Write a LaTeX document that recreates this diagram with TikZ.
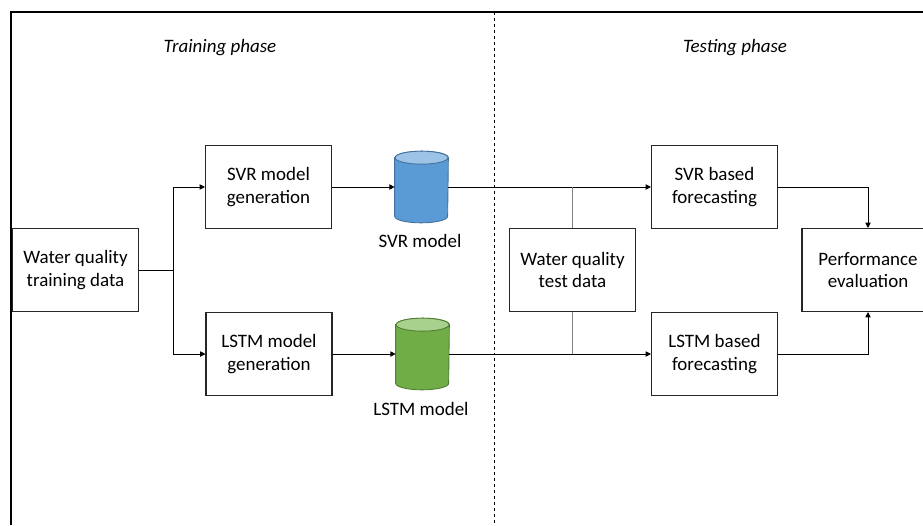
\documentclass[tikz,border=0pt]{standalone}
\usepackage{fontspec}
\setmainfont{Carlito}
\usetikzlibrary{arrows.meta}

\definecolor{svrblue}{HTML}{5B9BD5}
\definecolor{svrtop}{HTML}{9DC3E6}
\definecolor{svredge}{HTML}{41719C}
\definecolor{lstmgreen}{HTML}{70AD47}
\definecolor{lstmtop}{HTML}{A9D18E}
\definecolor{lstmedge}{HTML}{507E32}

\tikzset{
  procbox/.style={draw=black!85, line width=0.6pt, minimum width=2.52cm,
    minimum height=1.66cm, align=center, inner sep=0pt,
    font=\fontsize{10.8}{12.6}\selectfont},
  dbslot/.style={minimum width=1.06cm, minimum height=1.42cm, inner sep=0pt},
  caption/.style={font=\fontsize{10.8}{12.6}\selectfont},
  phase/.style={font=\fontsize{10.8}{12.6}\selectfont\itshape},
  flow/.style={-{Triangle[length=3pt,width=3pt]}, line width=0.5pt},
}

\begin{document}
\begin{tikzpicture}[x=0.02cm, y=-0.02cm]
    \useasboundingbox (0,0) rectangle (923,525);

    % frame and phase divider
    \draw[line width=1.2pt] (11,525) -- (11,12) -- (923,12);
    \draw[line width=0.4pt, dash pattern=on 1.7pt off 1.7pt] (494,12) -- (494,525);
    \node[phase] (trainph) at (220,48) {Training phase};
    \node[phase] (testph) at (735,48) {Testing phase};

    % training phase
    \node[procbox] (train) at (75.5,270) {Water quality\\training data};
    \node[procbox] (svrgen) at (268.5,187) {SVR model\\generation};
    \node[procbox] (lstmgen) at (269,354) {LSTM model\\generation};
    \node[dbslot] (svrdb) at (421.5,187) {};
    \node[dbslot] (lstmdb) at (422.5,354) {};
    \foreach \dbname/\bodycol/\endcol/\edgecol in
        {svrdb/svrblue/svrtop/svredge, lstmdb/lstmgreen/lstmtop/lstmedge}{
      \filldraw[fill=\bodycol, draw=\edgecol, line width=0.5pt]
        ([yshift=-0.13cm]\dbname.north west) -- ([yshift=0.13cm]\dbname.south west)
        arc[start angle=180, end angle=360, x radius=0.53cm, y radius=0.13cm]
        -- ([yshift=-0.13cm]\dbname.north east)
        arc[start angle=0, end angle=180, x radius=0.53cm, y radius=0.13cm] -- cycle;
      \filldraw[fill=\endcol, draw=\edgecol, line width=0.5pt]
        ([yshift=-0.13cm]\dbname.north) ellipse[x radius=0.53cm, y radius=0.13cm];
    }
    \node[caption] (svrlbl) at (420,241) {SVR model};
    \node[caption] (lstmlbl) at (421,409) {LSTM model};

    % testing phase
    \node[procbox] (test) at (572.5,270) {Water quality\\test data};
    \node[procbox] (svrfc) at (714.5,187) {SVR based\\forecasting};
    \node[procbox] (lstmfc) at (714.5,354) {LSTM based\\forecasting};
    \node[procbox, minimum width=2.64cm] (perf) at (868,270) {Performance\\evaluation};

    % connectors
    \coordinate (split) at (173,270);
    \draw[line width=0.5pt] (train.east) -- (split);
    \draw[flow] (split) |- (svrgen.west);
    \draw[flow] (split) |- (lstmgen.west);
    \draw[flow] (svrgen.east) -- (svrdb.west);
    \draw[flow] (lstmgen.east) -- (lstmdb.west);
    \draw[flow] (svrdb.east) -- (svrfc.west);
    \draw[flow] (lstmdb.east) -- (lstmfc.west);
    \draw[gray, line width=0.5pt] (test.north) -- (test.north |- svrfc.west);
    \draw[gray, line width=0.5pt] (test.south) -- (test.south |- lstmfc.west);
    \draw[flow] (svrfc.east) -| (perf.north);
    \draw[flow] (lstmfc.east) -| (perf.south);
\end{tikzpicture}
\end{document}
